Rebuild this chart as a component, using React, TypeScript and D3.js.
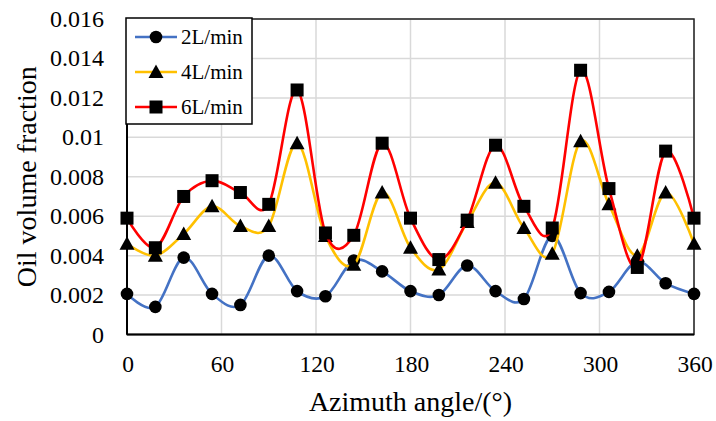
import React from "react";
import * as d3 from "d3";

const angles = [0, 18, 36, 54, 72, 90, 108, 126, 144, 162, 180, 198, 216, 234, 252, 270, 288, 306, 324, 342, 360];
const flow2 = [0.00206, 0.0014, 0.0039, 0.00206, 0.0015, 0.004, 0.0022, 0.00194, 0.00375, 0.0032, 0.0022, 0.002, 0.0035, 0.0022, 0.0018, 0.005, 0.0021, 0.00216, 0.0037, 0.0026, 0.00206];
const flow4 = [0.0046, 0.004, 0.0051, 0.0065, 0.0055, 0.0055, 0.0097, 0.005, 0.00354, 0.0072, 0.0044, 0.0033, 0.0057, 0.0077, 0.0054, 0.0041, 0.0098, 0.0066, 0.004, 0.0072, 0.0046];
const flow6 = [0.0059, 0.0044, 0.007, 0.0078, 0.0072, 0.0066, 0.0124, 0.00515, 0.00503, 0.0097, 0.0059, 0.0038, 0.0058, 0.0096, 0.0065, 0.0054, 0.0134, 0.0074, 0.0034, 0.0093, 0.0059];
const seriesNames = ["2L/min", "4L/min", "6L/min"];
const seriesColors = ["#4472C4", "#FFC000", "#FF0000"];
const seriesMarkers = ["circle", "triangle", "square"];
const xTicks = [0, 60, 120, 180, 240, 300, 360];
const yTicks = [0, 0.002, 0.004, 0.006, 0.008, 0.01, 0.012, 0.014, 0.016];
const yTickLabels = ["0", "0.002", "0.004", "0.006", "0.008", "0.01", "0.012", "0.014", "0.016"];

const W = 716;
const H = 421;
const M = { left: 127, right: 694, top: 19, bottom: 334.5 };
const FONT = "Times New Roman";

function Marker({ type, x, y }: { type: string; x: number; y: number }) {
  if (type === "circle") return <circle cx={x} cy={y} r={6.3} fill="#000" />;
  if (type === "square") return <rect x={x - 6.5} y={y - 6.5} width={13} height={13} fill="#000" />;
  const s = 7.5;
  return <path d={`M${x},${y - s}L${x + s},${y + s * 0.8}L${x - s},${y + s * 0.8}Z`} fill="#000" />;
}

export default function App() {
  const x = d3.scaleLinear().domain([0, 360]).range([M.left, M.right]);
  const y = d3.scaleLinear().domain([0, 0.016]).range([M.bottom, M.top]);
  const data = [flow2, flow4, flow6];
  const line = d3
    .line<number>()
    .x((_, i) => x(angles[i]))
    .y((d) => y(d))
    .curve(d3.curveCardinal.tension(0));

  const legendX = 126;
  const legendY = 18;
  const ts = { fontFamily: FONT };
  return (
    <svg width={W} height={H} style={{ position: "absolute", left: 0, top: 0, background: "#fff" }}>
      <rect x={0} y={0} width={W} height={H} fill="#fff" />
      {xTicks.map((t) => (
        <line key={"gx" + t} x1={x(t)} x2={x(t)} y1={M.top} y2={M.bottom} stroke="#d9d9d9" strokeWidth={1.5} />
      ))}
      {yTicks.map((t) => (
        <line key={"gy" + t} x1={M.left} x2={M.right} y1={y(t)} y2={y(t)} stroke="#d9d9d9" strokeWidth={1.5} />
      ))}
      <rect x={M.left} y={M.top} width={M.right - M.left} height={M.bottom - M.top} fill="none" stroke="#222" strokeWidth={1.5} />
      <line x1={M.left} x2={M.left} y1={M.top} y2={M.bottom} stroke="#000" strokeWidth={2} />
      <line x1={M.left} x2={M.right} y1={M.bottom} y2={M.bottom} stroke="#000" strokeWidth={2} />
      {data.map((vals, si) => (
        <g key={si}>
          <path d={line(vals) || ""} fill="none" stroke={seriesColors[si]} strokeWidth={2.6} />
          {vals.map((v, i) => (
            <Marker key={i} type={seriesMarkers[si]} x={x(angles[i])} y={y(v)} />
          ))}
        </g>
      ))}
      {xTicks.map((t) => (
        <text key={"tx" + t} x={x(t) + 1} y={372} textAnchor="middle" style={ts} fontSize={23.5} fill="#000">
          {t}
        </text>
      ))}
      {yTicks.map((t, i) => (
        <text key={"ty" + t} x={104} y={y(t) + 8} textAnchor="end" style={ts} fontSize={24} fill="#000">
          {yTickLabels[i]}
        </text>
      ))}
      <text x={(M.left + M.right) / 2} y={411} textAnchor="middle" style={ts} fontSize={28} fill="#000">
        Azimuth angle/(°)
      </text>
      <text
        transform={`translate(36,${(M.top + M.bottom) / 2}) rotate(-90)`}
        textAnchor="middle"
        style={ts}
        fontSize={28}
        fill="#000"
      >
        Oil volume fraction
      </text>
      <rect x={legendX} y={legendY} width={126} height={106} fill="#fff" stroke="#000" strokeWidth={1.5} />
      {seriesNames.map((n, i) => {
        const cy = legendY + 19 + i * 35;
        return (
          <g key={n}>
            <line x1={135} x2={177} y1={cy} y2={cy} stroke={seriesColors[i]} strokeWidth={2.6} />
            <Marker type={seriesMarkers[i]} x={156} y={cy} />
            <text x={181} y={cy + 7} style={ts} fontSize={21} fill="#000">
              {n}
            </text>
          </g>
        );
      })}
    </svg>
  );
}
